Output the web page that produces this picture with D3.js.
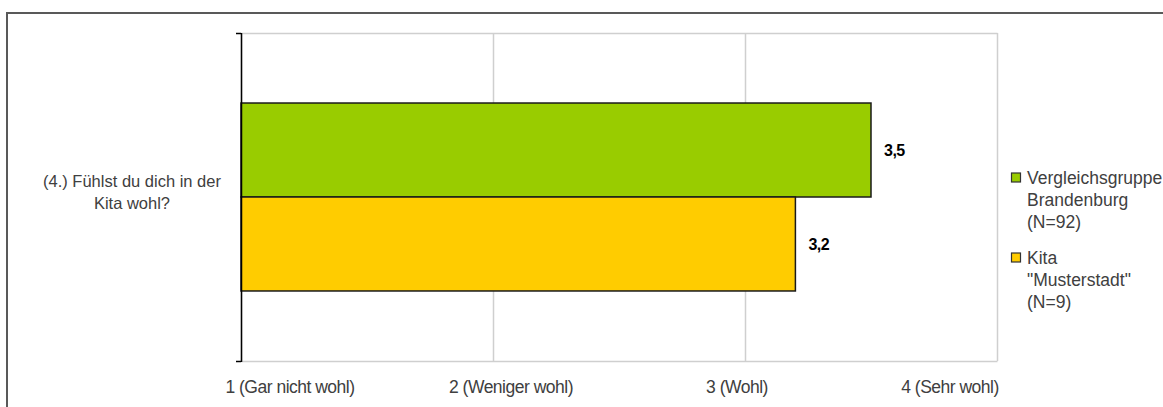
<!DOCTYPE html>
<html>
<head>
<meta charset="utf-8">
<script src="https://cdn.jsdelivr.net/npm/d3@7/dist/d3.min.js"></script>
<style>
  html, body { margin: 0; padding: 0; background: #fff; }
  svg { display: block; font-family: "Liberation Sans", Arial, sans-serif; }
</style>
</head>
<body>
<div id="chart"></div>
<script>
// ---- data ----
const categories = ["(4.) Fühlst du dich in der Kita wohl?"];
const categoryLines = [["(4.) Fühlst du dich in der", "Kita wohl?"]];
const seriesNames = ["Vergleichsgruppe Brandenburg (N=92)", "Kita \"Musterstadt\" (N=9)"];
const legendLines = [["Vergleichsgruppe", "Brandenburg", "(N=92)"], ["Kita", "\"Musterstadt\"", "(N=9)"]];
const seriesColors = ["#99CC00", "#FFCC00"];
const vergleichValues = [3.5];
const kitaValues = [3.2];
const tickValues = [1, 2, 3, 4];
const tickLabels = ["1 (Gar nicht wohl)", "2 (Weniger wohl)", "3 (Wohl)", "4 (Sehr wohl)"];

// ---- layout ----
const W = 1163, H = 407;
const plot = { left: 241, top: 33, right: 997, bottom: 361 };
const tickLabelDx = [49, 18, -8, -47];

const svg = d3.select("#chart").append("svg").attr("width", W).attr("height", H);

// outer border
svg.append("rect").attr("x", 7).attr("y", 13).attr("width", W + 20).attr("height", H + 20)
  .attr("fill", "none").attr("stroke", "#595959").attr("stroke-width", 2);

const x = d3.scaleLinear().domain([1, 4]).range([plot.left, plot.right]);
const y0 = d3.scaleBand().domain(categories).range([plot.top, plot.bottom]).padding(0);
const y1 = d3.scaleBand().domain(seriesNames).range([0, y0.bandwidth()]).paddingInner(0).paddingOuter(0.745);

// gridlines
svg.append("g").selectAll("line").data(tickValues).join("line")
  .attr("x1", d => Math.round(x(d)) + 0.5).attr("x2", d => Math.round(x(d)) + 0.5)
  .attr("y1", plot.top).attr("y2", plot.bottom)
  .attr("stroke", "#cfcfcf").attr("stroke-width", 1.5);
svg.append("line").attr("x1", plot.left).attr("x2", plot.right + 0.5)
  .attr("y1", plot.top + 0.5).attr("y2", plot.top + 0.5).attr("stroke", "#cfcfcf").attr("stroke-width", 1.5);
svg.append("line").attr("x1", plot.left).attr("x2", plot.right + 0.5)
  .attr("y1", plot.bottom + 0.5).attr("y2", plot.bottom + 0.5).attr("stroke", "#cfcfcf").attr("stroke-width", 1.5);

// bars
const seriesData = [vergleichValues, kitaValues];
const barG = svg.append("g");
categories.forEach((cat, ci) => {
  seriesNames.forEach((s, si) => {
    const v = seriesData[si][ci];
    const yy = y0(cat) + y1(s);
    barG.append("rect")
      .attr("x", x(1)).attr("y", yy)
      .attr("width", x(v) - x(1)).attr("height", y1.bandwidth())
      .attr("fill", seriesColors[si]).attr("stroke", "#1a1a1a").attr("stroke-width", 1.5);
    barG.append("text")
      .attr("x", x(v) + 13).attr("y", yy + y1.bandwidth() / 2 + 6)
      .attr("font-size", 16).attr("font-weight", "bold").attr("fill", "#000")
      .attr("letter-spacing", -0.5)
      .text(d3.format(".1f")(v).replace(".", ","));
  });
});

// y axis
const yAxisG = svg.append("g");
yAxisG.append("line").attr("x1", plot.left + 0.5).attr("x2", plot.left + 0.5)
  .attr("y1", plot.top).attr("y2", plot.bottom + 1).attr("stroke", "#000").attr("stroke-width", 1.5);
[plot.top, plot.bottom].forEach(yy => {
  yAxisG.append("line").attr("x1", plot.left - 5).attr("x2", plot.left)
    .attr("y1", yy + 0.5).attr("y2", yy + 0.5).attr("stroke", "#000").attr("stroke-width", 1.5);
});

// category labels
categories.forEach((cat, ci) => {
  const cy = y0(cat) + y0.bandwidth() / 2;
  const t = svg.append("text").attr("text-anchor", "middle").attr("font-size", 16.5).attr("fill", "#404040");
  const lines = categoryLines[ci];
  lines.forEach((ln, li) => {
    t.append("tspan").attr("x", 132).attr("y", cy - 5 + (li - (lines.length - 1) / 2) * 22 + 6).text(ln);
  });
});

// x tick labels
svg.append("g").selectAll("text").data(tickValues).join("text")
  .attr("x", (d, i) => x(d) + tickLabelDx[i]).attr("y", 393)
  .attr("text-anchor", "middle").attr("font-size", 17.5).attr("fill", "#404040")
  .attr("letter-spacing", -0.5)
  .text((d, i) => tickLabels[i]);

// legend
const legendTop = [178, 258];
seriesNames.forEach((s, si) => {
  const g = svg.append("g");
  g.append("rect").attr("x", 1011.5).attr("y", legendTop[si] - 5)
    .attr("width", 9).attr("height", 9)
    .attr("fill", seriesColors[si]).attr("stroke", "#333").attr("stroke-width", 1.2);
  legendLines[si].forEach((ln, li) => {
    g.append("text").attr("x", 1027).attr("y", legendTop[si] + 6 + li * 22)
      .attr("font-size", 17.5).attr("fill", "#404040").text(ln);
  });
});
</script>
</body>
</html>
